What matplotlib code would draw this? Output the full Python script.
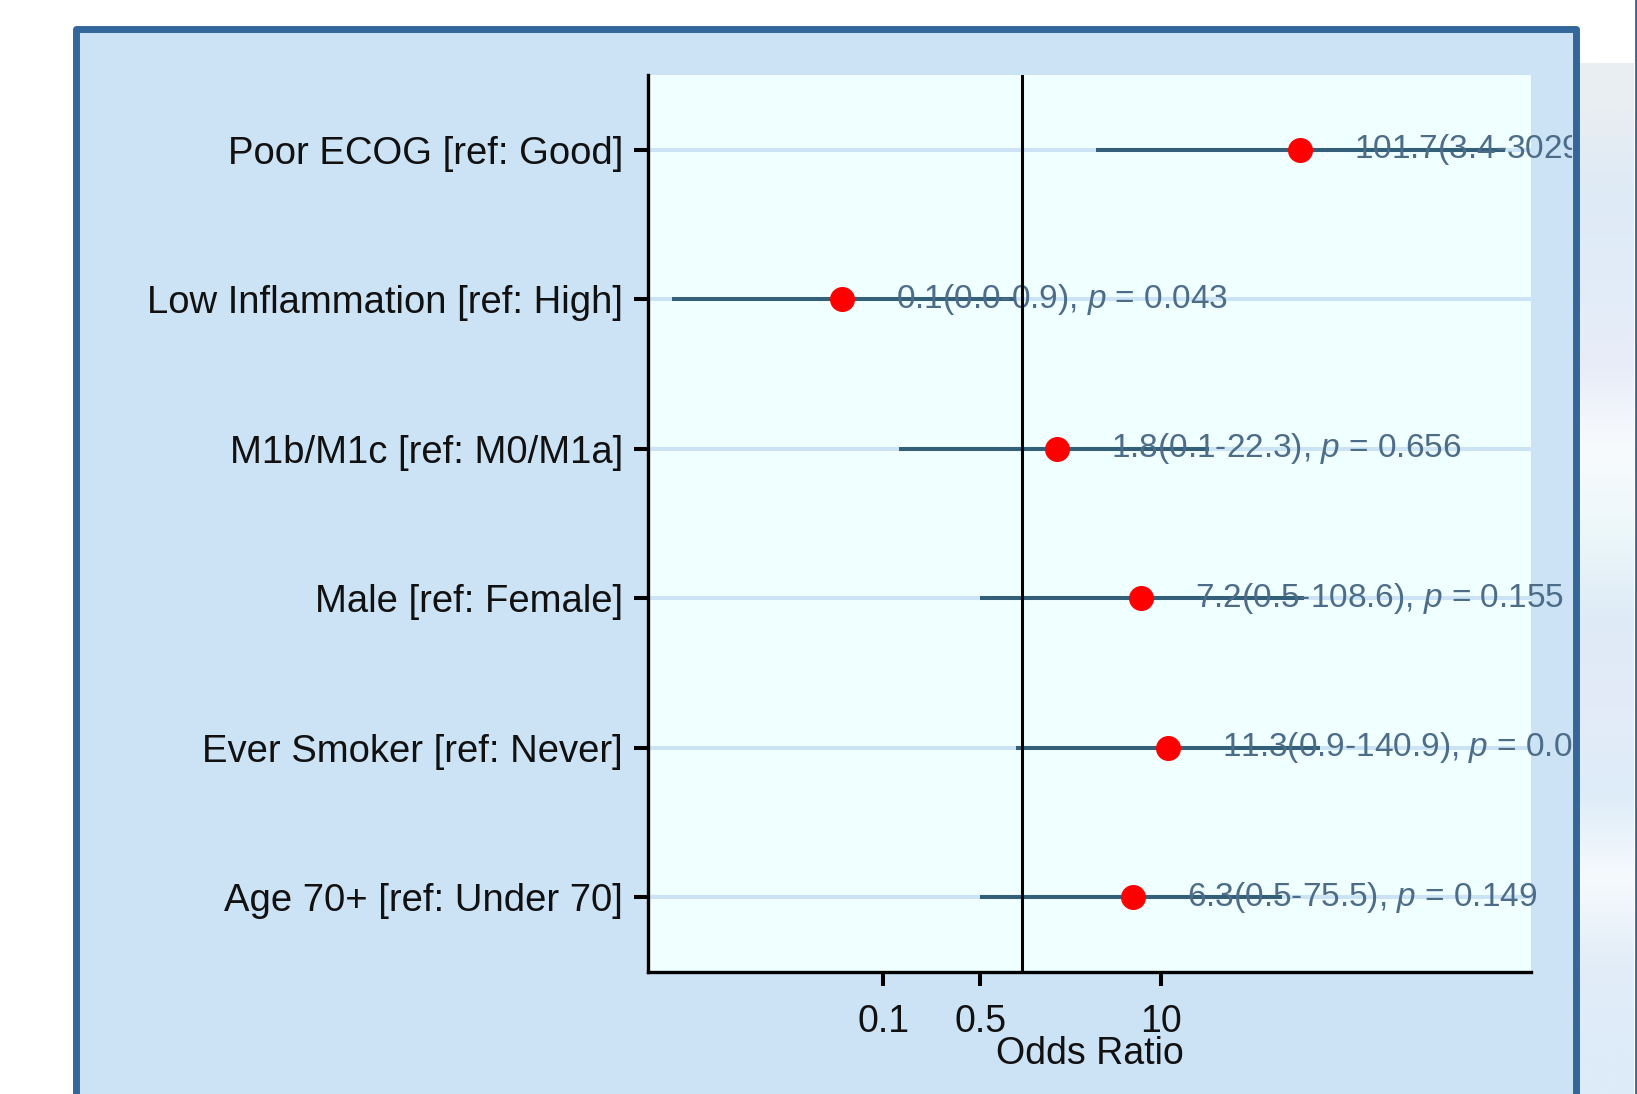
import numpy as np
import matplotlib
matplotlib.use("Agg")
import matplotlib.pyplot as plt
from matplotlib.patches import Rectangle

plt.rcParams['font.family'] = ['Liberation Sans', 'DejaVu Sans']
plt.rcParams['mathtext.fontset'] = 'custom'
plt.rcParams['mathtext.it'] = 'Liberation Sans:italic'
plt.rcParams['mathtext.rm'] = 'Liberation Sans'

# data (top row first)
labels = ['Poor ECOG [ref: Good]', 'Low Inflammation [ref: High]',
          'M1b/M1c [ref: M0/M1a]', 'Male [ref: Female]',
          'Ever Smoker [ref: Never]', 'Age 70+ [ref: Under 70]']
odds = [101.7, 0.05, 1.8, 7.2, 11.3, 6.3]
lower = [3.4, 0.003, 0.13, 0.5, 0.9, 0.5]
upper = [3029.0, 0.9, 22.3, 108.6, 140.9, 75.5]
pvals = ['0.008', '0.043', '0.656', '0.155', '0.060', '0.149']
xticks = [0.1, 0.5, 10]
xticklabels = ['0.1', '0.5', '10']

W, H = 1637, 1094


def fx(px):
    return px / W


def fy(py):
    # py measured from the top
    return 1 - py / H


fig = plt.figure(figsize=(W / 100, H / 100), dpi=100)
fig.patch.set_facecolor('white')

# light strip on the right, beyond the frame
strip = fig.add_axes([fx(1580), 0, fx(54), fy(63)])
band = np.array([[233, 238, 242], [222, 234, 245], [225, 236, 248], [232, 236, 248],
                 [248, 251, 253], [236, 247, 250], [222, 234, 246], [228, 235, 248],
                 [222, 236, 248], [246, 250, 253], [226, 237, 248], [222, 235, 248]]) / 255
strip.imshow(band[:, None, :], aspect='auto', interpolation='bilinear')
strip.axis('off')
fig.add_artist(plt.Line2D([fx(1635.5), fx(1635.5)], [0, 1], color='#33669a',
                          lw=2, transform=fig.transFigure))

# outer frame
frame = Rectangle((fx(75.5), -0.1), fx(1500), fy(28.5) + 0.1, transform=fig.transFigure,
                  facecolor='#cce2f5', edgecolor='#33669a', lw=5.0, joinstyle='round',
                  zorder=0)
fig.add_artist(frame)
clip = Rectangle((fx(79), 0), fx(1493), fy(32), transform=fig.transFigure,
                 facecolor='none', edgecolor='none')

ax = fig.add_axes([fx(648), fy(972), fx(1531 - 648), fy(75) - fy(972)])
ax.set_facecolor('#f0ffff')
ax.set_xscale('log')
ax.set_xlim(0.002, 4700)
ax.set_ylim(0.5, len(labels) + 0.5)

ypos = np.arange(len(labels), 0, -1)

for y in ypos:
    ax.axhline(y, color='#cce3f5', lw=2.9, zorder=1)

ax.hlines(ypos, lower, upper, color='#335f78', lw=2.9, zorder=2)
ax.plot(odds, ypos, 'o', color='#ff0000', ms=17, mec='#ff0000', zorder=3)
ax.axvline(1, color='black', lw=2.2, zorder=5)

for o, lo, hi, p, y in zip(odds, lower, upper, pvals, ypos):
    t = ax.annotate(f'{o:.1f}({lo:.1f}-{hi:.1f}), $p$ = {p}', xy=(o, y),
                    xytext=(54, 0), textcoords='offset pixels', va='center', ha='left',
                    fontsize=24, color='#4d6c88', zorder=4, annotation_clip=False)
    t.set_clip_path(clip)

ax.set_yticks(ypos)
ax.set_yticklabels(labels, fontsize=27.5, color='#111111')
ax.set_xticks(xticks)
ax.set_xticklabels(xticklabels, fontsize=27, color='#111111')
ax.minorticks_off()
ax.tick_params(axis='both', length=10, width=2.9, color='black')
ax.tick_params(axis='y', pad=8)
ax.tick_params(axis='x', pad=13)
ax.set_xlabel('Odds Ratio', fontsize=27, color='#111111', labelpad=-3)

for side in ['top', 'right']:
    ax.spines[side].set_visible(False)
for side in ['left', 'bottom']:
    ax.spines[side].set_linewidth(2.4)
    ax.spines[side].set_color('black')

fig.savefig('out.png', dpi=100)
